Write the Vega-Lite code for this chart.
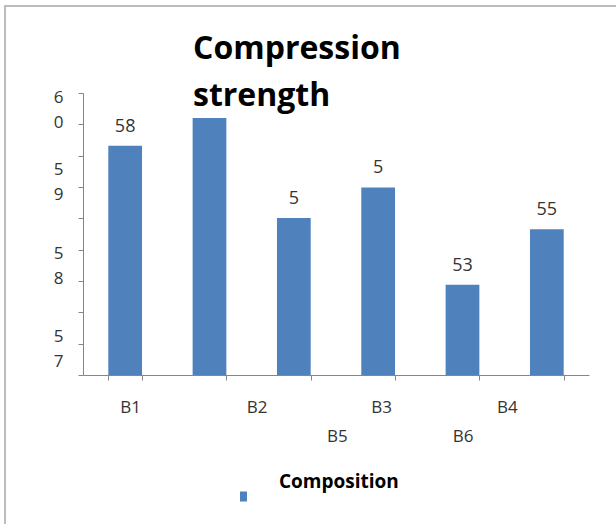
{
  "$schema": "https://vega.github.io/schema/vega-lite/v6.json",
  "width": 611,
  "height": 518,
  "autosize": "none",
  "padding": {"left": 5, "top": 6, "right": 0, "bottom": 0},
  "background": "white",
  "config": {
    "font": "Open Sans",
    "view": {"stroke": "#a8a8a8", "strokeWidth": 1.5, "strokeDash": [611, 1129, 518]}
  },
  "title": {
    "text": ["Compression", "strength"],
    "anchor": "start",
    "frame": "group",
    "orient": "top",
    "offset": -107,
    "dx": 188,
    "font": "Open Sans",
    "fontSize": 32,
    "fontWeight": "bold",
    "color": "#000000",
    "lineHeight": 47
  },
  "data": {
    "values": [
      {"sample": "B1", "strength": 58, "label": "58", "series": "Composition"},
      {"sample": "B2", "strength": 59.0, "label": "", "series": "Composition"},
      {"sample": "B3", "strength": 55.4, "label": "5", "series": "Composition"},
      {"sample": "B4", "strength": 56.5, "label": "5", "series": "Composition"},
      {"sample": "B5", "strength": 53, "label": "53", "series": "Composition"},
      {"sample": "B6", "strength": 55, "label": "55", "series": "Composition"}
    ]
  },
  "encoding": {
    "x": {
      "field": "sample",
      "type": "nominal",
      "sort": null,
      "scale": {"range": [78, 584], "paddingInner": 0.6, "paddingOuter": 0.3},
      "axis": {
        "title": null,
        "offset": -149,
        "tickBand": "extent",
        "domainColor": "#868686",
        "tickColor": "#868686",
        "tickSize": 5,
        "labelAngle": 0,
        "labelFont": "Open Sans",
        "labelFontSize": 17,
        "labelColor": "#333333",
        "labelBaseline": "top",
        "labelPadding": 19,
        "labelLineHeight": 29,
        "labelOffset": {
          "condition": [
            {"test": "datum.value === 'B1'", "value": 5},
            {"test": "datum.value === 'B2'", "value": 47},
            {"test": "datum.value === 'B3'", "value": 43},
            {"test": "datum.value === 'B4'", "value": 3},
            {"test": "datum.value === 'B6'", "value": -40}
          ],
          "value": 0
        },
        "labelExpr": "datum.value === 'B3' ? ['', 'B5'] : datum.value === 'B4' ? 'B3' : datum.value === 'B5' ? ['', 'B6'] : datum.value === 'B6' ? 'B4' : datum.value"
      }
    },
    "y": {
      "field": "strength",
      "type": "quantitative",
      "scale": {"domain": [49.75, 59.9], "range": [369, 87], "zero": false, "nice": false},
      "axis": {
        "title": null,
        "grid": false,
        "offset": -78,
        "values": [49.75, 50.8778, 52.0056, 53.1333, 54.2611, 55.3889, 56.5167, 57.6444, 58.7722, 59.9, 51.118, 54.141, 57.129, 59.756],
        "domainColor": "#868686",
        "tickColor": "#868686",
        "tickSize": 5,
        "tickOpacity": {"condition": {"test": "indexof([51.118, 54.141, 57.129, 59.756], datum.value) >= 0", "value": 0}, "value": 1},
        "labelExpr": "datum.value === 59.756 ? ['6', '0'] : datum.value === 57.129 ? ['5', '9'] : datum.value === 54.141 ? ['5', '8'] : datum.value === 51.118 ? ['5', '7'] : ''",
        "labelAlign": "center",
        "labelBaseline": "middle",
        "labelPadding": 20,
        "labelLineHeight": 25,
        "labelFont": "Open Sans",
        "labelFontSize": 17,
        "labelColor": "#333333",
        "labelOverlap": false,
        "labelFlush": false,
        "labelBound": false
      }
    }
  },
  "layer": [
    {
      "mark": {"type": "bar"},
      "encoding": {
        "y2": {"datum": 49.75},
        "color": {
          "field": "series",
          "type": "nominal",
          "scale": {"range": ["#4f81bd"]},
          "legend": {
            "title": null,
            "orient": "none",
            "legendX": 229,
            "legendY": 481,
            "padding": 0,
            "symbolType": "M-0.7,-1H0.7V1H-0.7Z",
            "symbolSize": 100,
            "symbolStrokeWidth": 0,
            "labelFont": "Open Sans",
            "labelFontSize": 19,
            "labelFontWeight": "bold",
            "labelColor": "#000000",
            "labelOffset": 26,
            "encode": {"labels": {"update": {"dy": {"value": -15}}}}
          }
        }
      }
    },
    {
      "mark": {"type": "text", "baseline": "middle", "dy": -19, "fontSize": 18, "font": "Open Sans", "color": "#333333"},
      "encoding": {"text": {"field": "label"}}
    }
  ]
}
